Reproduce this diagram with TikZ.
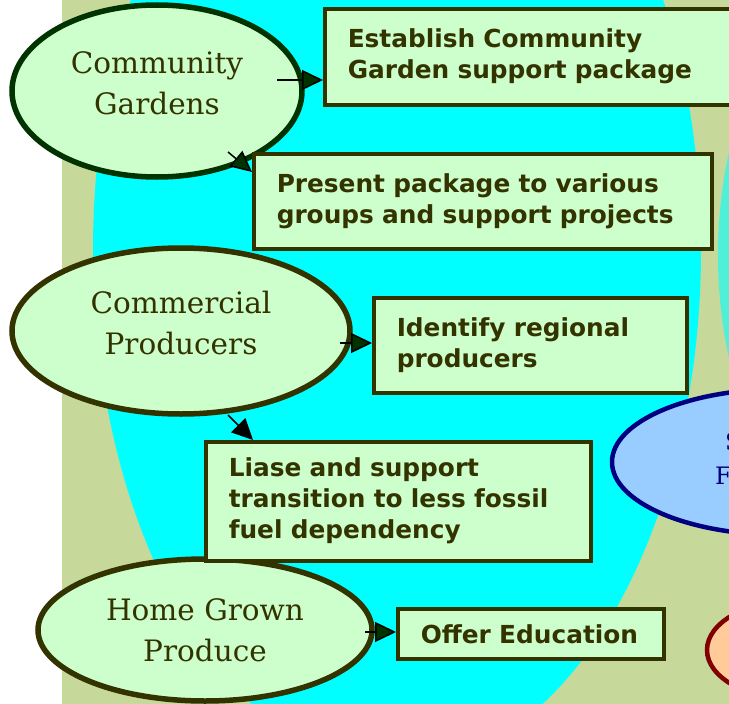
\documentclass[tikz,border=0pt]{standalone}
\usepackage{fontspec}
\usetikzlibrary{arrows.meta,shapes.geometric}
\newfontfamily\elfont{DejaVu Serif}
\newfontfamily\bxfont{DejaVu Sans}
\definecolor{bgolive}{HTML}{C6D99B}
\definecolor{aqua}{HTML}{00FFFF}
\definecolor{paleg}{HTML}{CCFFCC}
\definecolor{darkol}{HTML}{333300}
\definecolor{dgreen}{HTML}{003300}
\definecolor{skyb}{HTML}{99CCFF}
\definecolor{navyb}{HTML}{000080}
\definecolor{peach}{HTML}{FFCC99}
\definecolor{maroonr}{HTML}{800000}
\tikzset{
  topic/.style={ellipse, draw=darkol, fill=paleg, line width=5.5pt, inner sep=0pt,
    text=darkol, align=center, font=\elfont\fontsize{29.5}{41}\selectfont},
  task/.style={rectangle, draw=darkol, fill=paleg, line width=3.5pt, anchor=north west,
    inner xsep=23pt, inner ysep=0pt, align=left, text=darkol,
    font=\bxfont\bfseries\fontsize{24.8}{31}\selectfont},
  link/.style={draw=black, line width=1.5pt, -{Triangle[length=21pt,width=20pt,fill=dgreen]}},
  linkb/.style={draw=black, line width=1.5pt, -{Triangle[length=21pt,width=20pt,fill=black]}}
}
\begin{document}
\begin{tikzpicture}[x=1pt,y=-1pt]
\useasboundingbox (0,0) rectangle (729,704);
\fill[white] (0,0) rectangle (729,704);
\fill[bgolive] (62,0) rectangle (729,704);
\begin{scope}
\clip (62,0) rectangle (729,704);
\fill[aqua] (397,250) ellipse [x radius=304pt, y radius=517pt];
\fill[aqua!60!bgolive] (900,255) ellipse [x radius=182pt, y radius=300pt];
\end{scope}
% right-hand partial shapes
\node[ellipse, draw=navyb, fill=skyb, line width=4.5pt, minimum width=340pt, minimum height=146pt] (sf) at (782,462) {};
\node[anchor=base west, text=navyb, font=\elfont\fontsize{24}{28}\selectfont, inner sep=0pt] (sfs) at (725,450) {S};
\node[anchor=base west, text=navyb, font=\elfont\fontsize{24}{28}\selectfont, inner sep=0pt] (sff) at (715,484) {F};
\node[ellipse, draw=maroonr, fill=peach, line width=4.5pt, minimum width=180pt, minimum height=100pt] (pe) at (797,650) {};
% topic ellipses
\node[topic, draw=dgreen, minimum width=290pt, minimum height=172pt] (cg) at (157,91)
  {Community\\Gardens\rule[-16pt]{0pt}{16pt}};
\node[topic, minimum width=338pt, minimum height=166pt] (cp) at (181,331)
  {Commercial\\Producers\rule[-16pt]{0pt}{16pt}};
\node[topic, minimum width=334pt, minimum height=142pt] (hg) at (205,630)
  {Home Grown\\Produce};
% task boxes
\node[task, minimum width=430pt, minimum height=96pt, text width=384pt] (b1) at (323,7)
  {\mbox{Establish Community}\\\mbox{Garden support package}};
\node[task, minimum width=458pt, minimum height=95pt, text width=412pt] (b2) at (252,152)
  {\mbox{Present package to various}\\\mbox{groups and support projects}};
\node[task, minimum width=313pt, minimum height=95pt, text width=267pt] (b3) at (372,296)
  {\mbox{Identify regional}\\\mbox{producers}};
\node[task, minimum width=385pt, minimum height=119pt, text width=339pt] (b4) at (204,440)
  {\mbox{Liase and support}\\\mbox{transition to less fossil}\\\mbox{fuel dependency}};
\node[task, minimum width=266pt, minimum height=50pt, text width=220pt] (b5) at (396,607)
  {\mbox{Offer Education}};
% connectors
\coordinate (a1) at (277,80);
\coordinate (a2) at (228,152);
\coordinate (a3) at (340,343);
\coordinate (a4) at (228,415);
\coordinate (a5) at (365,632);
\draw[link] (a1) -- (a1 -| b1.west);
\draw[link] (a2) -- ([yshift=-20pt]b2.north west);
\draw[link] (a3) -- (a3 -| b3.west);
\draw[linkb] (a4) -- ([xshift=49pt]b4.north west);
\draw[link] (a5) -- (a5 -| b5.west);
\end{tikzpicture}
\end{document}
